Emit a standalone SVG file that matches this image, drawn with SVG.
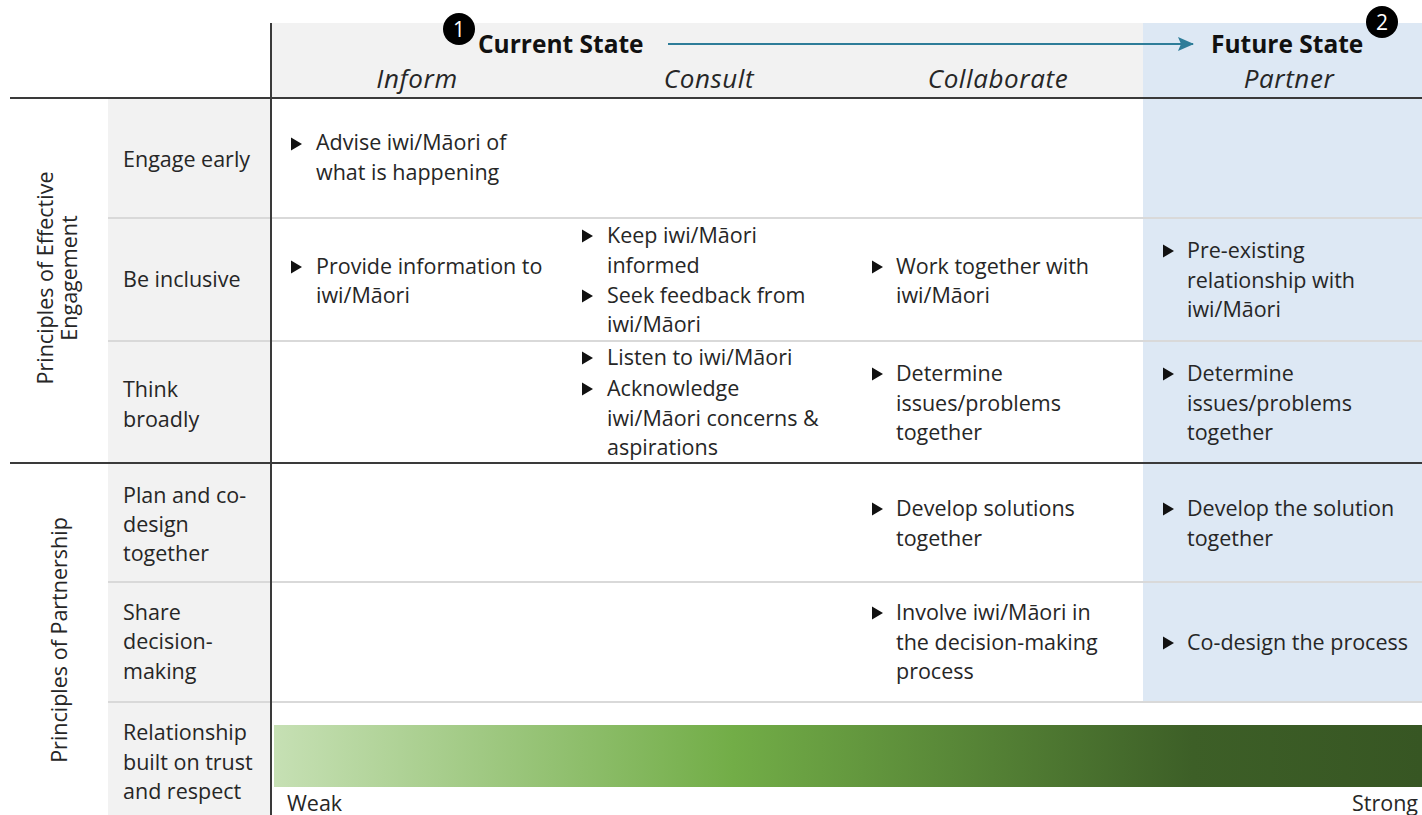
<svg xmlns="http://www.w3.org/2000/svg" width="1422" height="815" viewBox="0 0 1422 815">
<style>
.t{font-family:"Open Sans","Liberation Sans",sans-serif;font-size:21.5px;fill:#262626}
.h{font-family:"Open Sans","Liberation Sans",sans-serif;font-size:26px;letter-spacing:0.6px;font-style:italic;fill:#262626;text-anchor:middle}
.b{font-family:"Open Sans","Liberation Sans",sans-serif;font-size:24.5px;font-weight:bold;fill:#111}
.n{font-family:"Open Sans","Liberation Sans",sans-serif;font-size:21px;fill:#fff;text-anchor:middle}
.sep{stroke:#d9d9d9;stroke-width:2}
.dark{stroke:#3a3a3a;stroke-width:2}
</style>
<defs>
<path id="bul" d="M0,-6.5 L11,0 L0,6.5 Z" fill="#111"/>
<linearGradient id="g" x1="0" y1="0" x2="1" y2="0">
<stop offset="0" stop-color="#c6e0b4"/>
<stop offset="0.4" stop-color="#72ad47"/>
<stop offset="0.8" stop-color="#3d5f27"/>
<stop offset="1" stop-color="#375623"/>
</linearGradient>
<marker id="ah" markerWidth="16" markerHeight="14" refX="15" refY="7" orient="auto" markerUnits="userSpaceOnUse"><path d="M0,0 L16,7 L0,14 L3,7 Z" fill="#2e7d99"/></marker>
</defs>
<rect width="1422" height="815" fill="#fff"/>
<g id="backgrounds">
<rect x="271" y="23" width="872" height="75" fill="#f2f2f2"/>
<rect x="1143" y="23" width="279" height="679" fill="#dde8f4"/>
<rect x="108" y="98" width="163" height="717" fill="#f2f2f2"/>
</g>
<g id="grid">
<line class="sep" x1="108" y1="218" x2="1422" y2="218"/>
<line class="sep" x1="108" y1="341" x2="1422" y2="341"/>
<line class="sep" x1="108" y1="582" x2="1422" y2="582"/>
<line class="sep" x1="108" y1="702" x2="1422" y2="702"/>
<line class="dark" x1="10" y1="98" x2="1422" y2="98"/>
<line class="dark" x1="10" y1="463" x2="1422" y2="463"/>
<line class="dark" x1="271" y1="23" x2="271" y2="815"/>
</g>
<g id="header">
<text class="b" x="478" y="53">Current State</text>
<text class="b" x="1211" y="53">Future State</text>
<text class="h" x="417" y="88">Inform</text>
<text class="h" x="709" y="88">Consult</text>
<text class="h" x="998" y="88">Collaborate</text>
<text class="h" x="1289" y="88">Partner</text>
</g>
<g id="connectors">
<line x1="668" y1="44" x2="1193" y2="44" stroke="#2e7d99" stroke-width="2" marker-end="url(#ah)"/>
</g>
<g id="badge1"><circle cx="459" cy="29" r="16" fill="#000"/><text class="n" x="459" y="37">1</text></g>
<g id="badge2"><circle cx="1382" cy="22" r="16" fill="#000"/><text class="n" x="1382" y="30">2</text></g>
<g id="side-labels">
<text class="t" transform="translate(53,278) rotate(-90)" text-anchor="middle">Principles of Effective</text>
<text class="t" transform="translate(77,278) rotate(-90)" text-anchor="middle">Engagement</text>
<text class="t" transform="translate(67,640) rotate(-90)" text-anchor="middle">Principles of Partnership</text>
</g>
<g id="row-labels">
<text class="t" x="123" y="167">Engage early</text>
<text class="t" x="123" y="287">Be inclusive</text>
<text class="t" x="123" y="397">Think</text>
<text class="t" x="123" y="427">broadly</text>
<text class="t" x="123" y="503">Plan and co-</text>
<text class="t" x="123" y="532">design</text>
<text class="t" x="123" y="561">together</text>
<text class="t" x="123" y="620">Share</text>
<text class="t" x="123" y="649">decision-</text>
<text class="t" x="123" y="679">making</text>
<text class="t" x="123" y="740">Relationship</text>
<text class="t" x="123" y="770">built on trust</text>
<text class="t" x="123" y="799">and respect</text>
</g>
<g id="col-inform">
<use href="#bul" x="291" y="144"/>
<text class="t" x="316" y="150">Advise iwi/Māori of</text>
<text class="t" x="316" y="180">what is happening</text>
<use href="#bul" x="291" y="267"/>
<text class="t" x="316" y="274">Provide information to</text>
<text class="t" x="316" y="303">iwi/Māori</text>
</g>
<g id="col-consult">
<use href="#bul" x="582" y="236"/>
<text class="t" x="607" y="243">Keep iwi/Māori</text>
<text class="t" x="607" y="273">informed</text>
<use href="#bul" x="582" y="296"/>
<text class="t" x="607" y="303">Seek feedback from</text>
<text class="t" x="607" y="332">iwi/Māori</text>
<use href="#bul" x="582" y="358"/>
<text class="t" x="607" y="365">Listen to iwi/Māori</text>
<use href="#bul" x="582" y="389"/>
<text class="t" x="607" y="396">Acknowledge</text>
<text class="t" x="607" y="426">iwi/Māori concerns &amp;</text>
<text class="t" x="607" y="455">aspirations</text>
</g>
<g id="col-collaborate">
<use href="#bul" x="872" y="267"/>
<text class="t" x="896" y="274">Work together with</text>
<text class="t" x="896" y="303">iwi/Māori</text>
<use href="#bul" x="872" y="374"/>
<text class="t" x="896" y="381">Determine</text>
<text class="t" x="896" y="411">issues/problems</text>
<text class="t" x="896" y="440">together</text>
<use href="#bul" x="872" y="509"/>
<text class="t" x="896" y="516">Develop solutions</text>
<text class="t" x="896" y="546">together</text>
<use href="#bul" x="872" y="613"/>
<text class="t" x="896" y="620">Involve iwi/Māori in</text>
<text class="t" x="896" y="650">the decision-making</text>
<text class="t" x="896" y="679">process</text>
</g>
<g id="col-partner">
<use href="#bul" x="1163" y="251"/>
<text class="t" x="1187" y="258">Pre-existing</text>
<text class="t" x="1187" y="288">relationship with</text>
<text class="t" x="1187" y="317">iwi/Māori</text>
<use href="#bul" x="1163" y="374"/>
<text class="t" x="1187" y="381">Determine</text>
<text class="t" x="1187" y="411">issues/problems</text>
<text class="t" x="1187" y="440">together</text>
<use href="#bul" x="1163" y="509"/>
<text class="t" x="1187" y="516">Develop the solution</text>
<text class="t" x="1187" y="546">together</text>
<use href="#bul" x="1163" y="643"/>
<text class="t" x="1187" y="650">Co-design the process</text>
</g>
<g id="strength-bar">
<rect x="274" y="725" width="1148" height="62" fill="url(#g)"/>
<text class="t" x="287" y="811">Weak</text>
<text class="t" x="1418" y="811" text-anchor="end">Strong</text>
</g>
</svg>
